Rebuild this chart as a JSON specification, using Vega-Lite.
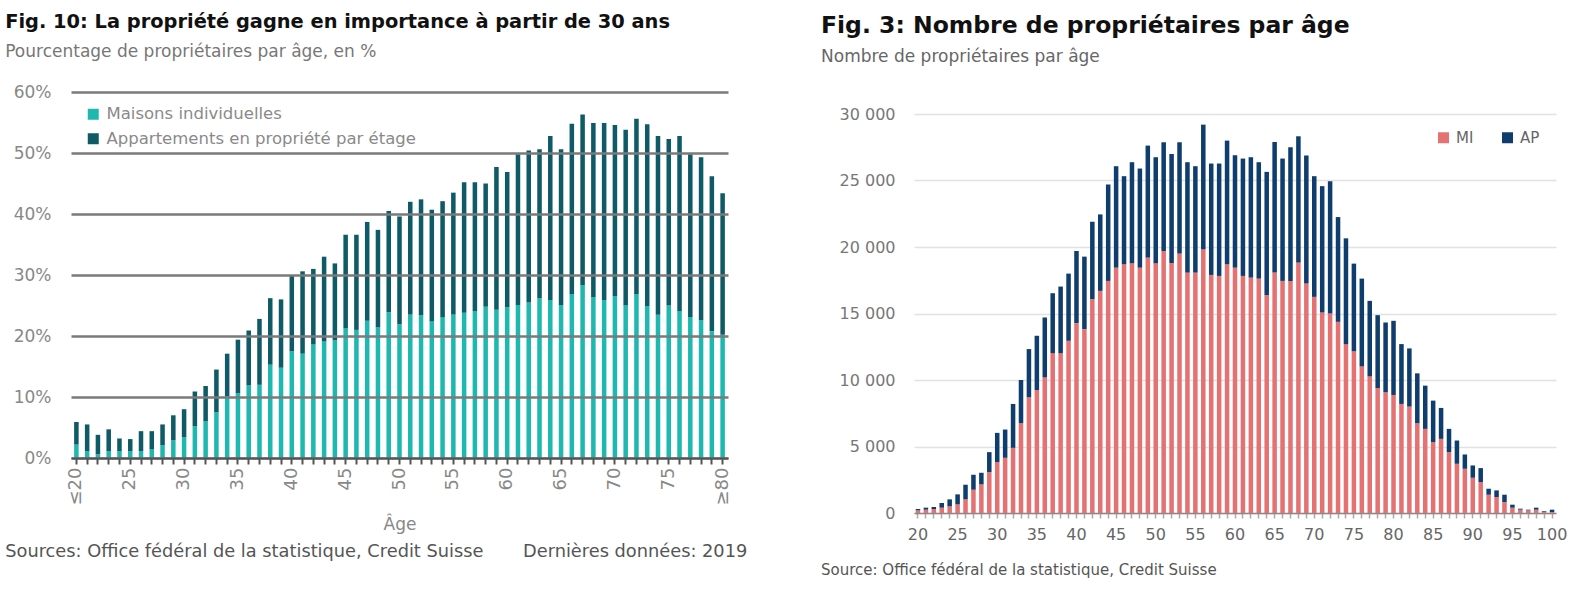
{
  "$schema": "https://vega.github.io/schema/vega-lite/v6.json",
  "background": "white",
  "padding": {"left": 5, "top": 11, "right": 5, "bottom": 5},
  "config": {
    "font": "DejaVu Sans",
    "view": {"stroke": null},
    "axis": {"labelFont": "DejaVu Sans", "titleFont": "DejaVu Sans"},
    "legend": {"labelFont": "DejaVu Sans"}
  },
  "resolve": {"scale": {"color": "independent"}, "legend": {"color": "independent"}},
  "datasets": {
    "pct": [
      {"age": 20, "mi": 2.2, "ap": 3.7}, {"age": 21, "mi": 1.1, "ap": 4.4}, {"age": 22, "mi": 0.6, "ap": 3.2},
      {"age": 23, "mi": 1.1, "ap": 3.6}, {"age": 24, "mi": 1.1, "ap": 2.1}, {"age": 25, "mi": 1.1, "ap": 2.0},
      {"age": 26, "mi": 1.1, "ap": 3.3}, {"age": 27, "mi": 1.4, "ap": 3.0}, {"age": 28, "mi": 2.1, "ap": 3.4},
      {"age": 29, "mi": 2.9, "ap": 4.1}, {"age": 30, "mi": 3.4, "ap": 4.6}, {"age": 31, "mi": 5.2, "ap": 5.7},
      {"age": 32, "mi": 6.0, "ap": 5.8}, {"age": 33, "mi": 7.5, "ap": 7.0}, {"age": 34, "mi": 10.1, "ap": 7.0},
      {"age": 35, "mi": 10.6, "ap": 8.8}, {"age": 36, "mi": 11.9, "ap": 9.0}, {"age": 37, "mi": 12.0, "ap": 10.8},
      {"age": 38, "mi": 15.3, "ap": 10.9}, {"age": 39, "mi": 14.8, "ap": 11.2}, {"age": 40, "mi": 17.5, "ap": 12.5},
      {"age": 41, "mi": 17.1, "ap": 13.5}, {"age": 42, "mi": 18.6, "ap": 12.4}, {"age": 43, "mi": 19.1, "ap": 13.9},
      {"age": 44, "mi": 19.3, "ap": 12.6}, {"age": 45, "mi": 21.3, "ap": 15.3}, {"age": 46, "mi": 21.0, "ap": 15.6},
      {"age": 47, "mi": 22.5, "ap": 16.2}, {"age": 48, "mi": 21.4, "ap": 16.0}, {"age": 49, "mi": 23.9, "ap": 16.6},
      {"age": 50, "mi": 21.9, "ap": 17.7}, {"age": 51, "mi": 23.5, "ap": 18.5}, {"age": 52, "mi": 23.4, "ap": 19.0},
      {"age": 53, "mi": 22.4, "ap": 18.3}, {"age": 54, "mi": 23.1, "ap": 19.0}, {"age": 55, "mi": 23.5, "ap": 20.0},
      {"age": 56, "mi": 23.8, "ap": 21.4}, {"age": 57, "mi": 24.1, "ap": 21.1}, {"age": 58, "mi": 24.8, "ap": 20.2},
      {"age": 59, "mi": 24.3, "ap": 23.4}, {"age": 60, "mi": 24.7, "ap": 22.2}, {"age": 61, "mi": 25.1, "ap": 24.7},
      {"age": 62, "mi": 25.5, "ap": 24.9}, {"age": 63, "mi": 26.2, "ap": 24.4}, {"age": 64, "mi": 25.9, "ap": 26.9},
      {"age": 65, "mi": 25.1, "ap": 25.5}, {"age": 66, "mi": 26.9, "ap": 27.9}, {"age": 67, "mi": 28.3, "ap": 28.0},
      {"age": 68, "mi": 26.4, "ap": 28.5}, {"age": 69, "mi": 25.9, "ap": 29.0}, {"age": 70, "mi": 26.5, "ap": 28.1},
      {"age": 71, "mi": 25.0, "ap": 28.8}, {"age": 72, "mi": 26.9, "ap": 28.7}, {"age": 73, "mi": 24.9, "ap": 29.8},
      {"age": 74, "mi": 23.5, "ap": 29.3}, {"age": 75, "mi": 25.0, "ap": 27.3}, {"age": 76, "mi": 24.1, "ap": 28.7},
      {"age": 77, "mi": 23.1, "ap": 26.7}, {"age": 78, "mi": 22.6, "ap": 26.7}, {"age": 79, "mi": 20.8, "ap": 25.4},
      {"age": 80, "mi": 20.2, "ap": 23.2}
    ],
    "cnt": [
      {"age": 20, "MI": 200, "AP": 100}, {"age": 21, "MI": 250, "AP": 150}, {"age": 22, "MI": 300, "AP": 150},
      {"age": 23, "MI": 400, "AP": 350}, {"age": 24, "MI": 500, "AP": 525}, {"age": 25, "MI": 650, "AP": 750},
      {"age": 26, "MI": 1025, "AP": 1100}, {"age": 27, "MI": 1750, "AP": 1125}, {"age": 28, "MI": 2150, "AP": 875},
      {"age": 29, "MI": 3075, "AP": 1500}, {"age": 30, "MI": 3825, "AP": 2200}, {"age": 31, "MI": 4150, "AP": 2125},
      {"age": 32, "MI": 4900, "AP": 3300}, {"age": 33, "MI": 6750, "AP": 3250}, {"age": 34, "MI": 8700, "AP": 3625},
      {"age": 35, "MI": 9250, "AP": 4075}, {"age": 36, "MI": 10200, "AP": 4500}, {"age": 37, "MI": 12025, "AP": 4500},
      {"age": 38, "MI": 12000, "AP": 5025}, {"age": 39, "MI": 12950, "AP": 5050}, {"age": 40, "MI": 14275, "AP": 5425},
      {"age": 41, "MI": 13825, "AP": 5450}, {"age": 42, "MI": 16075, "AP": 5825}, {"age": 43, "MI": 16700, "AP": 5750},
      {"age": 44, "MI": 17450, "AP": 7250}, {"age": 45, "MI": 18450, "AP": 7625}, {"age": 46, "MI": 18700, "AP": 6625},
      {"age": 47, "MI": 18775, "AP": 7600}, {"age": 48, "MI": 18450, "AP": 7450}, {"age": 49, "MI": 19200, "AP": 8425},
      {"age": 50, "MI": 18775, "AP": 7975}, {"age": 51, "MI": 19700, "AP": 8175}, {"age": 52, "MI": 18800, "AP": 8200},
      {"age": 53, "MI": 19500, "AP": 8375}, {"age": 54, "MI": 18075, "AP": 8300}, {"age": 55, "MI": 18075, "AP": 8000},
      {"age": 56, "MI": 19825, "AP": 9375}, {"age": 57, "MI": 17900, "AP": 8375}, {"age": 58, "MI": 17825, "AP": 8450},
      {"age": 59, "MI": 18700, "AP": 9300}, {"age": 60, "MI": 18450, "AP": 8450}, {"age": 61, "MI": 17825, "AP": 8825},
      {"age": 62, "MI": 17700, "AP": 9050}, {"age": 63, "MI": 17625, "AP": 8750}, {"age": 64, "MI": 16375, "AP": 9275},
      {"age": 65, "MI": 18075, "AP": 9825}, {"age": 66, "MI": 17450, "AP": 9200}, {"age": 67, "MI": 17450, "AP": 10050},
      {"age": 68, "MI": 18825, "AP": 9500}, {"age": 69, "MI": 17250, "AP": 9625}, {"age": 70, "MI": 16250, "AP": 9075},
      {"age": 71, "MI": 15075, "AP": 9500}, {"age": 72, "MI": 15000, "AP": 9950}, {"age": 73, "MI": 14375, "AP": 7875},
      {"age": 74, "MI": 12700, "AP": 7950}, {"age": 75, "MI": 12150, "AP": 6600}, {"age": 76, "MI": 11025, "AP": 6600},
      {"age": 77, "MI": 10275, "AP": 5675}, {"age": 78, "MI": 9400, "AP": 5475}, {"age": 79, "MI": 9075, "AP": 5250},
      {"age": 80, "MI": 8875, "AP": 5575}, {"age": 81, "MI": 8200, "AP": 4500}, {"age": 82, "MI": 8000, "AP": 4375},
      {"age": 83, "MI": 6750, "AP": 3750}, {"age": 84, "MI": 6325, "AP": 3250}, {"age": 85, "MI": 5325, "AP": 3125},
      {"age": 86, "MI": 5575, "AP": 2325}, {"age": 87, "MI": 4575, "AP": 1750}, {"age": 88, "MI": 3700, "AP": 1750},
      {"age": 89, "MI": 3325, "AP": 1075}, {"age": 90, "MI": 2650, "AP": 925}, {"age": 91, "MI": 2325, "AP": 1050},
      {"age": 92, "MI": 1375, "AP": 450}, {"age": 93, "MI": 1200, "AP": 500}, {"age": 94, "MI": 825, "AP": 550},
      {"age": 95, "MI": 400, "AP": 225}, {"age": 96, "MI": 250, "AP": 75}, {"age": 97, "MI": 200, "AP": 50},
      {"age": 98, "MI": 250, "AP": 150}, {"age": 99, "MI": 100, "AP": 50}, {"age": 100, "MI": 75, "AP": 175}
    ]
  },
  "spacing": 73,
  "hconcat": [
    {
      "title": {
        "text": "Fig. 10: La propriété gagne en importance à partir de 30 ans",
        "subtitle": "Pourcentage de propriétaires par âge, en %",
        "anchor": "start",
        "fontSize": 19.4, "fontWeight": "bold", "color": "#111111",
        "subtitleFontSize": 17, "subtitleColor": "#777777", "subtitlePadding": 12,
        "offset": 22
      },
      "resolve": {"scale": {"color": "independent"}, "legend": {"color": "independent"}},
      "vconcat": [
        {
          "width": 657, "height": 366,
          "data": {"name": "pct"},
          "transform": [{"fold": ["mi", "ap"], "as": ["serie", "v"]}],
          "title": {
            "text": "Sources: Office fédéral de la statistique, Credit Suisse\u00a0\u00a0\u00a0\u00a0\u00a0\u00a0\u00a0Dernières données: 2019",
            "orient": "bottom", "anchor": "start", "dx": -8,
            "fontSize": 17.8, "fontWeight": "normal", "color": "#555555", "offset": 10
          },
          "mark": {"type": "bar"},
          "encoding": {
            "x": {
              "field": "age", "type": "ordinal",
              "scale": {"paddingInner": 0.58},
              "axis": {
                "title": "Âge", "titleFontSize": 17, "titleColor": "#888888", "titleFontWeight": "normal", "titlePadding": 12,
                "labelAngle": -90, "labelFontSize": 18, "labelColor": "#888888", "labelPadding": 3,
                "labelExpr": "datum.value == 20 ? '≤20' : datum.value == 80 ? '≥80' : (datum.value % 5 == 0 ? datum.value : '')",
                "domainColor": "#555555", "domainWidth": 2, "tickColor": "#555555", "tickWidth": 2, "tickSize": 6,
                "grid": false, "zindex": 1
              }
            },
            "y": {
              "field": "v", "type": "quantitative", "stack": "zero",
              "scale": {"domain": [0, 60]},
              "axis": {
                "title": null, "values": [0, 10, 20, 30, 40, 50, 60],
                "labelExpr": "datum.value + '%'",
                "domain": false, "ticks": false, "grid": true, "gridColor": "#7a7a7a", "gridWidth": 2.5,
                "labelFontSize": 17, "labelColor": "#888888", "labelPadding": 20, "zindex": 1
              }
            },
            "color": {
              "field": "serie", "type": "nominal",
              "scale": {"domain": ["mi", "ap"], "range": ["#1fb8b0", "#0e5a66"]},
              "legend": {
                "title": null, "orient": "top-left", "offset": 14,
                "labelExpr": "datum.value == 'mi' ? 'Maisons individuelles' : 'Appartements en propriété par étage'",
                "labelFontSize": 16.5, "labelColor": "#8a8a8a", "labelLimit": 600, "labelOffset": 5,
                "symbolType": "square", "symbolSize": 121, "symbolStrokeWidth": 0, "rowPadding": 7.5
              }
            },
            "order": {"field": "serie", "sort": "descending"}
          }
        }
      ]
    },
    {
      "title": {
        "text": "Fig. 3: Nombre de propriétaires par âge",
        "subtitle": "Nombre de propriétaires par âge",
        "anchor": "start",
        "fontSize": 23.5, "fontWeight": "bold", "color": "#111111",
        "subtitleFontSize": 17, "subtitleColor": "#666666", "subtitlePadding": 12,
        "offset": 27
      },
      "resolve": {"scale": {"color": "independent"}, "legend": {"color": "independent"}},
      "spacing": 0,
      "vconcat": [
        {
          "width": 642, "height": 14,
          "data": {"values": []},
          "mark": {"type": "point"}
        },
        {
          "width": 642, "height": 399,
          "data": {"name": "cnt"},
          "transform": [{"fold": ["MI", "AP"], "as": ["serie", "v"]}],
          "title": {
            "text": "Source: Office fédéral de la statistique, Credit Suisse",
            "orient": "bottom", "anchor": "start", "dx": -18,
            "fontSize": 15, "fontWeight": "normal", "color": "#555555", "offset": 21
          },
          "mark": {"type": "bar"},
          "encoding": {
            "x": {
              "field": "age", "type": "ordinal",
              "scale": {"paddingInner": 0.43},
              "axis": {
                "title": null, "labelAngle": 0, "labelFontSize": 16, "labelColor": "#666666", "labelPadding": 8,
                "labelExpr": "datum.value % 5 == 0 ? datum.value : ''",
                "domainColor": "#888888", "domainWidth": 1.5, "tickColor": "#aaaaaa", "tickWidth": 1.5, "tickSize": 5,
                "grid": false
              }
            },
            "y": {
              "field": "v", "type": "quantitative", "stack": "zero",
              "scale": {"domain": [0, 30000]},
              "axis": {
                "title": null, "values": [0, 5000, 10000, 15000, 20000, 25000, 30000],
                "labelExpr": "replace(format(datum.value, ','), ',', ' ')",
                "domain": false, "ticks": false, "grid": true, "gridColor": "#e2e2e2", "gridWidth": 1.5,
                "labelFontSize": 16, "labelColor": "#777777", "labelPadding": 19
              }
            },
            "color": {
              "field": "serie", "type": "nominal",
              "scale": {"domain": ["MI", "AP"], "range": ["#e47272", "#0f3d6e"]},
              "legend": {
                "title": null, "orient": "top-right", "offset": 16, "direction": "horizontal",
                "labelFontSize": 15, "labelColor": "#666666", "labelOffset": 5, "columnPadding": 26,
                "symbolType": "square", "symbolSize": 121, "symbolStrokeWidth": 0
              }
            },
            "order": {"field": "serie", "sort": "descending"}
          }
        }
      ]
    }
  ]
}
